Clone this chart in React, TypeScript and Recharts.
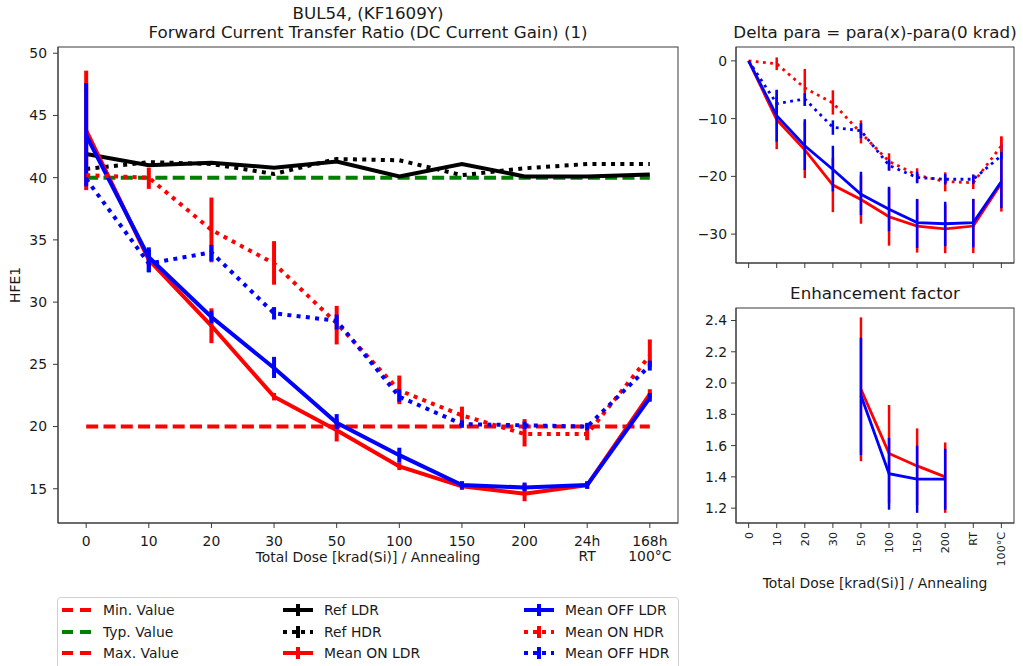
import React from "react";
import { ErrorBar, Line, LineChart, ReferenceLine, XAxis, YAxis } from "recharts";

const FONT = "DejaVu Sans, Verdana, sans-serif";
const TEXT = "#1a1a1a";
const AXIS = "#3a3a3a";
const RED = "#ff0000";
const BLUE = "#0000ff";
const GREEN = "#008000";
const BLACK = "#000000";

// x categories
const doseTicks = ["0", "10", "20", "30", "50", "100", "150", "200", "24h\nRT", "168h\n100°C"];
const shortTicks = ["0", "10", "20", "30", "50", "100", "150", "200", "RT", "100°C"];

// spec limits
const minValue = 20;
const typValue = 40;

// main chart: HFE1 means and error-bar bounds
const refLdr = [41.9, 41.0, 41.2, 40.8, 41.3, 40.1, 41.1, 40.1, 40.1, 40.25];
const refHdr = [40.7, 41.25, 41.1, 40.3, 41.5, 41.4, 40.2, 40.75, 41.1, 41.1];

const onLdr = [43.8, 33.4, 28.1, 22.4, 19.7, 16.8, 15.2, 14.6, 15.3, 22.6];
const onLdrLo = [39.0, 33.0, 26.7, 22.1, 18.8, 16.5, 14.9, 14.0, 15.0, 22.3];
const onLdrHi = [48.6, 33.8, 29.5, 22.7, 20.6, 17.1, 15.6, 15.4, 15.6, 23.0];

const offLdr = [43.4, 33.6, 28.8, 24.7, 20.3, 17.7, 15.3, 15.1, 15.3, 22.3];
const offLdrLo = [39.3, 32.4, 28.3, 23.9, 19.8, 17.1, 15.0, 14.8, 15.0, 22.0];
const offLdrHi = [47.6, 34.4, 29.3, 25.6, 21.0, 18.3, 15.6, 15.5, 15.6, 22.7];

const onHdr = [40.2, 40.0, 35.8, 33.1, 28.3, 22.9, 20.9, 19.4, 19.4, 25.7];
const onHdrLo = [40.2, 39.1, 33.2, 31.4, 26.6, 21.8, 20.1, 18.4, 18.9, 24.8];
const onHdrHi = [40.2, 40.8, 38.4, 34.9, 29.7, 24.1, 21.6, 20.6, 20.2, 27.0];

const offHdr = [39.9, 33.1, 34.0, 29.1, 28.5, 22.4, 20.2, 20.1, 20.0, 24.9];
const offHdrLo = [39.9, 32.4, 33.3, 28.6, 27.8, 22.0, 19.9, 19.8, 19.7, 24.5];
const offHdrHi = [39.9, 34.2, 34.6, 29.6, 29.0, 23.0, 20.5, 20.4, 20.3, 25.3];

// delta chart: para(x) - para(0 krad)
const dOnLdr = [0, -10.2, -15.4, -21.5, -24.0, -27.0, -28.6, -29.1, -28.6, -21.2];
const dOnLdrLo = [0, -15.3, -20.3, -26.2, -28.2, -32.0, -33.2, -33.3, -33.3, -26.1];
const dOnLdrHi = [0, -5.1, -10.5, -16.8, -19.8, -22.0, -24.0, -24.9, -23.9, -13.1];

const dOffLdr = [0, -9.5, -14.7, -18.8, -23.1, -25.7, -28.0, -28.2, -28.0, -20.9];
const dOffLdrLo = [0, -14.0, -18.9, -22.6, -26.7, -29.5, -32.4, -32.1, -32.3, -25.5];
const dOffLdrHi = [0, -5.0, -10.1, -14.7, -19.2, -21.8, -23.9, -24.4, -23.9, -14.5];

const dOnHdr = [0, -0.5, -4.7, -7.3, -12.5, -17.4, -19.8, -20.9, -21.1, -14.7];
const dOnHdrLo = [0, -1.6, -7.8, -9.3, -14.3, -19.0, -21.1, -22.6, -22.2, -16.3];
const dOnHdrHi = [0, 0.6, -1.4, -5.1, -10.3, -16.0, -18.6, -19.3, -19.7, -13.1];

const dOffHdr = [0, -7.4, -6.6, -11.5, -12.1, -18.1, -20.2, -20.5, -20.5, -16.4];
const dOffHdrLo = [0, -8.5, -7.8, -12.8, -13.4, -19.0, -21.2, -21.4, -21.3, -17.0];
const dOffHdrHi = [0, -6.2, -5.6, -10.3, -10.8, -17.1, -19.2, -19.6, -19.7, -15.8];

// enhancement factor (only 50..200 krad)
const efIdx = [4, 5, 6, 7];
const efOn = [1.96, 1.55, 1.47, 1.40];
const efOnLo = [1.50, 1.23, 1.22, 1.17];
const efOnHi = [2.42, 1.86, 1.71, 1.62];
const efOff = [1.92, 1.42, 1.385, 1.385];
const efOffLo = [1.54, 1.19, 1.17, 1.19];
const efOffHi = [2.29, 1.65, 1.60, 1.58];

const err = (v: number, lo: number, hi: number) => [v - lo, hi - v];

const mainData = doseTicks.map((_, i) => ({
  idx: i,
  refLdr: refLdr[i],
  refHdr: refHdr[i],
  onLdr: onLdr[i],
  onLdrErr: err(onLdr[i], onLdrLo[i], onLdrHi[i]),
  offLdr: offLdr[i],
  offLdrErr: err(offLdr[i], offLdrLo[i], offLdrHi[i]),
  onHdr: onHdr[i],
  onHdrErr: err(onHdr[i], onHdrLo[i], onHdrHi[i]),
  offHdr: offHdr[i],
  offHdrErr: err(offHdr[i], offHdrLo[i], offHdrHi[i]),
}));

const deltaData = shortTicks.map((_, i) => ({
  idx: i,
  onLdr: dOnLdr[i],
  onLdrErr: err(dOnLdr[i], dOnLdrLo[i], dOnLdrHi[i]),
  offLdr: dOffLdr[i],
  offLdrErr: err(dOffLdr[i], dOffLdrLo[i], dOffLdrHi[i]),
  onHdr: dOnHdr[i],
  onHdrErr: err(dOnHdr[i], dOnHdrLo[i], dOnHdrHi[i]),
  offHdr: dOffHdr[i],
  offHdrErr: err(dOffHdr[i], dOffHdrLo[i], dOffHdrHi[i]),
}));

const efData = efIdx.map((idx, i) => ({
  idx,
  on: efOn[i],
  onErr: err(efOn[i], efOnLo[i], efOnHi[i]),
  off: efOff[i],
  offErr: err(efOff[i], efOffLo[i], efOffHi[i]),
}));

const tickStyle = { fontFamily: FONT, fontSize: 13.9, fill: TEXT };
const idxTicks = doseTicks.map((_, i) => i);

// plot boxes (page pixels)
const MAIN = { left: 58, top: 47, right: 678, bottom: 523 };
const DELTA = { left: 736, top: 47, right: 1014, bottom: 263 };
const EF = { left: 736, top: 308, right: 1014, bottom: 523 };

function MainTick(props: any) {
  const { x, y, payload } = props;
  const lines = doseTicks[payload.value].split("\n");
  return (
    <text x={x} y={y} textAnchor="middle" style={tickStyle}>
      {lines.map((l, k) => (
        <tspan key={k} x={x} dy={k === 0 ? "0.71em" : "1.1em"}>
          {l}
        </tspan>
      ))}
    </text>
  );
}

function RotTick(props: any) {
  const { x, y, payload } = props;
  return (
    <text
      x={x}
      y={y}
      dy="0.35em"
      textAnchor="end"
      transform={`rotate(-90, ${x}, ${y})`}
      style={{ fontFamily: FONT, fontSize: 11.1, fill: TEXT }}
    >
      {shortTicks[payload.value]}
    </text>
  );
}

const NoTick = () => <g />;

function Frame({ box }: any) {
  return (
    <rect
      x={box.left}
      y={box.top}
      width={box.right - box.left}
      height={box.bottom - box.top}
      fill="none"
      stroke={AXIS}
      strokeWidth={1}
    />
  );
}

function LegendRow({ x, y, color, dash, label, bar }: any) {
  return (
    <g>
      <line x1={x} x2={x + 30} y1={y} y2={y} stroke={color} strokeWidth={4} strokeDasharray={dash} />
      {bar && <line x1={x + 15} x2={x + 15} y1={y - 6} y2={y + 6} stroke={color} strokeWidth={4} />}
      <text x={x + 41} y={y + 5} style={tickStyle}>
        {label}
      </text>
    </g>
  );
}

export default function App() {
  const dashed = "12 5.3";
  const dotted = "4 5.3";
  const smallDotted = "2.8 4.4";
  return (
    <div style={{ position: "absolute", left: 0, top: 0, width: 1023, height: 666, background: "#fff", overflow: "hidden" }}>
      <div style={{ position: "absolute", left: 0, top: 0 }}>
        <LineChart width={700} height={580} data={mainData} margin={{ top: MAIN.top, right: 700 - MAIN.right, bottom: 20, left: 0 }}>
          <XAxis
            type="number"
            dataKey="idx"
            domain={[-0.45, 9.45]}
            ticks={idxTicks}
            tick={<MainTick />}
            height={37}
            tickSize={5}
            tickMargin={8}
            stroke={AXIS}
            allowDataOverflow
          />
          <YAxis
            type="number"
            domain={[12.25, 50.5]}
            ticks={[15, 20, 25, 30, 35, 40, 45, 50]}
            width={MAIN.left}
            tickSize={5}
            tickMargin={6}
            tick={tickStyle}
            stroke={AXIS}
            allowDataOverflow
          />
          <ReferenceLine
            segment={[{ x: 0, y: minValue }, { x: 9, y: minValue }]}
            stroke={RED}
            strokeWidth={4}
            strokeDasharray={dashed}
          />
          <ReferenceLine
            segment={[{ x: 0, y: typValue }, { x: 9, y: typValue }]}
            stroke={GREEN}
            strokeWidth={4}
            strokeDasharray={dashed}
          />
          <Line dataKey="refLdr" stroke={BLACK} strokeWidth={4} dot={false} isAnimationActive={false} />
          <Line dataKey="refHdr" stroke={BLACK} strokeWidth={4} strokeDasharray={dotted} dot={false} isAnimationActive={false} />
          <Line dataKey="onLdr" stroke={RED} strokeWidth={4} dot={false} isAnimationActive={false}>
            <ErrorBar dataKey="onLdrErr" direction="y" width={0} stroke={RED} strokeWidth={4} isAnimationActive={false} />
          </Line>
          <Line dataKey="offLdr" stroke={BLUE} strokeWidth={4} dot={false} isAnimationActive={false}>
            <ErrorBar dataKey="offLdrErr" direction="y" width={0} stroke={BLUE} strokeWidth={4} isAnimationActive={false} />
          </Line>
          <Line dataKey="onHdr" stroke={RED} strokeWidth={4} strokeDasharray={dotted} dot={false} isAnimationActive={false}>
            <ErrorBar dataKey="onHdrErr" direction="y" width={0} stroke={RED} strokeWidth={4} isAnimationActive={false} />
          </Line>
          <Line dataKey="offHdr" stroke={BLUE} strokeWidth={4} strokeDasharray={dotted} dot={false} isAnimationActive={false}>
            <ErrorBar dataKey="offHdrErr" direction="y" width={0} stroke={BLUE} strokeWidth={4} isAnimationActive={false} />
          </Line>
        </LineChart>
      </div>

      <div style={{ position: "absolute", left: 690, top: 0 }}>
        <LineChart width={333} height={290} data={deltaData} margin={{ top: DELTA.top, right: 1023 - DELTA.right, bottom: 0, left: 0 }}>
          <XAxis
            type="number"
            dataKey="idx"
            domain={[-0.45, 9.45]}
            ticks={idxTicks}
            tick={<NoTick />}
            height={290 - DELTA.bottom}
            tickSize={5}
            stroke={AXIS}
            allowDataOverflow
          />
          <YAxis
            type="number"
            domain={[-35, 2.4]}
            ticks={[-30, -20, -10, 0]}
            tickFormatter={(v: number) => (v < 0 ? `\u2212${-v}` : `${v}`)}
            width={DELTA.left - 690}
            tickSize={5}
            tickMargin={4}
            tick={tickStyle}
            stroke={AXIS}
            allowDataOverflow
          />
          <Line dataKey="onLdr" stroke={RED} strokeWidth={2.8} dot={false} isAnimationActive={false}>
            <ErrorBar dataKey="onLdrErr" direction="y" width={0} stroke={RED} strokeWidth={2.5} isAnimationActive={false} />
          </Line>
          <Line dataKey="offLdr" stroke={BLUE} strokeWidth={2.8} dot={false} isAnimationActive={false}>
            <ErrorBar dataKey="offLdrErr" direction="y" width={0} stroke={BLUE} strokeWidth={2.5} isAnimationActive={false} />
          </Line>
          <Line dataKey="onHdr" stroke={RED} strokeWidth={2.8} strokeDasharray={smallDotted} dot={false} isAnimationActive={false}>
            <ErrorBar dataKey="onHdrErr" direction="y" width={0} stroke={RED} strokeWidth={2.5} isAnimationActive={false} />
          </Line>
          <Line dataKey="offHdr" stroke={BLUE} strokeWidth={2.8} strokeDasharray={smallDotted} dot={false} isAnimationActive={false}>
            <ErrorBar dataKey="offHdrErr" direction="y" width={0} stroke={BLUE} strokeWidth={2.5} isAnimationActive={false} />
          </Line>
        </LineChart>
      </div>

      <div style={{ position: "absolute", left: 690, top: 280 }}>
        <LineChart width={333} height={300} data={efData} margin={{ top: EF.top - 280, right: 1023 - EF.right, bottom: 300 - (EF.bottom - 280) - 50, left: 0 }}>
          <XAxis
            type="number"
            dataKey="idx"
            domain={[-0.45, 9.45]}
            ticks={idxTicks}
            tick={<RotTick />}
            height={50}
            tickSize={5}
            tickMargin={4}
            stroke={AXIS}
            allowDataOverflow
          />
          <YAxis
            type="number"
            domain={[1.105, 2.48]}
            ticks={[1.2, 1.4, 1.6, 1.8, 2.0, 2.2, 2.4]}
            tickFormatter={(v: number) => v.toFixed(1)}
            width={EF.left - 690}
            tickSize={5}
            tickMargin={4}
            tick={tickStyle}
            stroke={AXIS}
            allowDataOverflow
          />
          <Line dataKey="on" stroke={RED} strokeWidth={2.8} dot={false} isAnimationActive={false}>
            <ErrorBar dataKey="onErr" direction="y" width={0} stroke={RED} strokeWidth={2.5} isAnimationActive={false} />
          </Line>
          <Line dataKey="off" stroke={BLUE} strokeWidth={2.8} dot={false} isAnimationActive={false}>
            <ErrorBar dataKey="offErr" direction="y" width={0} stroke={BLUE} strokeWidth={2.5} isAnimationActive={false} />
          </Line>
        </LineChart>
      </div>

      <svg width={1023} height={666} style={{ position: "absolute", left: 0, top: 0, pointerEvents: "none" }}>
        <Frame box={MAIN} />
        <Frame box={DELTA} />
        <Frame box={EF} />
        <g style={{ fontFamily: FONT, fontSize: 16.7, fill: TEXT }}>
          <text x={368} y={19} textAnchor="middle">BUL54, (KF1609Y)</text>
          <text x={368} y={38} textAnchor="middle">Forward Current Transfer Ratio (DC Current Gain) (1)</text>
          <text x={875} y={38} textAnchor="middle">Delta para = para(x)-para(0 krad)</text>
          <text x={875} y={299} textAnchor="middle">Enhancement factor</text>
        </g>
        <g style={{ fontFamily: FONT, fontSize: 13.9, fill: TEXT }}>
          <text x={368} y={562} textAnchor="middle">Total Dose [krad(Si)] / Annealing</text>
          <text transform="rotate(-90, 20, 285)" x={20} y={285} textAnchor="middle">HFE1</text>
          <text x={875} y={588} textAnchor="middle">Total Dose [krad(Si)] / Annealing</text>
        </g>
        <rect x={57.5} y={597.5} width={621} height={80} rx={3} fill="#fff" stroke="#d0d0d0" />
        <LegendRow x={62} y={610} color={RED} dash="11 7" label="Min. Value" />
        <LegendRow x={62} y={632} color={GREEN} dash="11 7" label="Typ. Value" />
        <LegendRow x={62} y={653} color={RED} dash="11 7" label="Max. Value" />
        <LegendRow x={283} y={610} color={BLACK} label="Ref LDR" bar />
        <LegendRow x={283} y={632} color={BLACK} dash="4 5" label="Ref HDR" bar />
        <LegendRow x={283} y={653} color={RED} label="Mean ON LDR" bar />
        <LegendRow x={524} y={610} color={BLUE} label="Mean OFF LDR" bar />
        <LegendRow x={524} y={632} color={RED} dash="4 5" label="Mean ON HDR" bar />
        <LegendRow x={524} y={653} color={BLUE} dash="4 5" label="Mean OFF HDR" bar />
      </svg>
    </div>
  );
}
